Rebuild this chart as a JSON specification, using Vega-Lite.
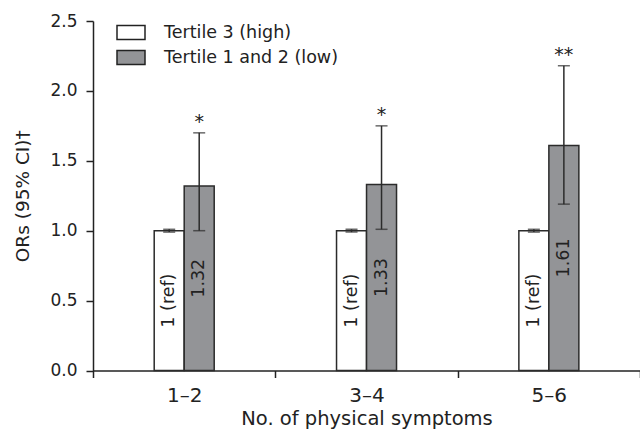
{
  "$schema": "https://vega.github.io/schema/vega-lite/v6.json",
  "width": 547,
  "height": 349.5,
  "autosize": "none",
  "padding": {"left": 93, "top": 21, "right": 0, "bottom": 62.5},
  "background": "white",
  "config": {
    "view": {"stroke": null},
    "font": "DejaVu Sans",
    "axis": {
      "grid": false,
      "domainColor": "#222222",
      "domainWidth": 1.5,
      "tickColor": "#222222",
      "tickWidth": 1.5,
      "tickSize": 7,
      "labelColor": "#222222",
      "titleColor": "#222222",
      "titleFontWeight": "normal"
    }
  },
  "data": {
    "values": [
      {"group": "1–2", "tertile": "Tertile 3 (high)", "or": 1.0, "lo": 0.99, "hi": 1.01, "label": "1 (ref)", "sig": ""},
      {"group": "1–2", "tertile": "Tertile 1 and 2 (low)", "or": 1.32, "lo": 1.0, "hi": 1.7, "label": "1.32", "sig": "*"},
      {"group": "3–4", "tertile": "Tertile 3 (high)", "or": 1.0, "lo": 0.99, "hi": 1.01, "label": "1 (ref)", "sig": ""},
      {"group": "3–4", "tertile": "Tertile 1 and 2 (low)", "or": 1.33, "lo": 1.01, "hi": 1.75, "label": "1.33", "sig": "*"},
      {"group": "5–6", "tertile": "Tertile 3 (high)", "or": 1.0, "lo": 0.99, "hi": 1.01, "label": "1 (ref)", "sig": ""},
      {"group": "5–6", "tertile": "Tertile 1 and 2 (low)", "or": 1.61, "lo": 1.19, "hi": 2.18, "label": "1.61", "sig": "**"}
    ]
  },
  "encoding": {
    "x": {
      "field": "group",
      "type": "nominal",
      "sort": null,
      "scale": {"paddingInner": 0, "paddingOuter": 0},
      "axis": {
        "title": "No. of physical symptoms",
        "tickBand": "extent",
        "labelAngle": 0,
        "labelFontSize": 20,
        "labelPadding": 8,
        "titleFontSize": 19.5,
        "titleY": 48,
        "titleBaseline": "middle"
      }
    },
    "xOffset": {
      "field": "tertile",
      "type": "nominal",
      "sort": ["Tertile 3 (high)", "Tertile 1 and 2 (low)"],
      "scale": {"paddingInner": 0, "paddingOuter": 0, "range": [61.2, 121.2]}
    }
  },
  "layer": [
    {
      "layer": [
        {
          "mark": {"type": "bar", "stroke": "#2b2b2b", "strokeWidth": 1.5},
          "encoding": {
            "y": {
              "field": "or",
              "type": "quantitative",
              "scale": {"domain": [0, 2.5], "nice": false},
              "axis": {
                "title": "ORs (95% CI)†",
                "values": [0, 0.5, 1, 1.5, 2, 2.5],
                "format": ".1f",
                "labelFontSize": 17,
                "labelPadding": 9,
                "titleFontSize": 18.5,
                "titleAngle": -90,
                "titleX": -71,
                "titleY": 174.75,
                "titleAlign": "center",
                "titleBaseline": "middle"
              }
            },
            "fill": {
              "field": "tertile",
              "type": "nominal",
              "scale": {
                "domain": ["Tertile 3 (high)", "Tertile 1 and 2 (low)"],
                "range": ["#ffffff", "#939497"]
              },
              "legend": {
                "title": null,
                "orient": "none",
                "legendX": 23,
                "legendY": -3.5,
                "padding": 0,
                "symbolType": "M-1,-0.5H1V0.5H-1Z",
                "symbolSize": 784,
                "symbolStrokeColor": "#222222",
                "symbolStrokeWidth": 1.5,
                "labelFontSize": 17.5,
                "labelColor": "#222222",
                "labelOffset": 18,
                "labelLimit": 400,
                "rowPadding": 0
              }
            }
          }
        },
        {
          "mark": {"type": "rule", "color": "#2b2b2b", "strokeWidth": 1.5},
          "encoding": {
            "y": {"field": "lo", "type": "quantitative"},
            "y2": {"field": "hi"}
          }
        },
        {
          "mark": {"type": "tick", "color": "#2b2b2b", "size": 12, "thickness": 1.5},
          "encoding": {"y": {"field": "lo", "type": "quantitative"}}
        },
        {
          "mark": {"type": "tick", "color": "#2b2b2b", "size": 12, "thickness": 1.5},
          "encoding": {"y": {"field": "hi", "type": "quantitative"}}
        },
        {
          "mark": {"type": "text", "fontSize": 19, "color": "#222222", "baseline": "alphabetic", "dy": -5},
          "encoding": {
            "y": {"field": "hi", "type": "quantitative"},
            "text": {"field": "sig"}
          }
        }
      ]
    },
    {
      "mark": {"type": "text", "fontSize": 17.5, "angle": -90, "align": "center", "baseline": "middle", "color": "#222222"},
      "encoding": {
        "y": {"field": "or", "type": "quantitative", "scale": {"domain": [0, 5], "nice": false}, "axis": null},
        "text": {"field": "label"}
      }
    }
  ],
  "resolve": {"scale": {"y": "independent"}}
}
